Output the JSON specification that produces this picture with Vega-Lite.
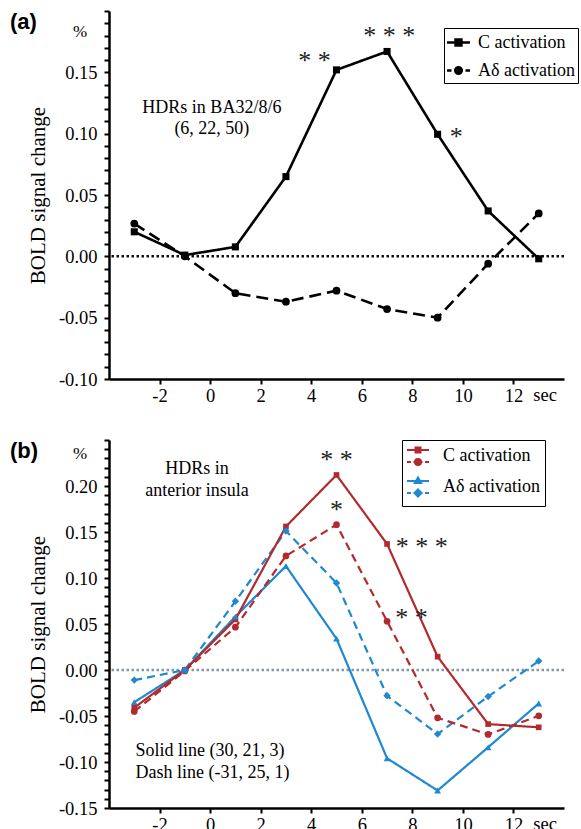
{
  "$schema": "https://vega.github.io/schema/vega-lite/v6.json",
  "background": "white",
  "padding": {"left": 10, "top": 2, "right": 0, "bottom": 0},
  "spacing": 26,
  "resolve": {"scale": {"shape": "independent", "strokeDash": "independent", "color": "independent", "stroke": "independent"}},
  "config": {
    "font": "Liberation Serif",
    "view": {"stroke": null},
    "axis": {"grid": false, "domainColor": "black", "domainWidth": 2.5, "tickColor": "black", "tickWidth": 2, "tickCount": 200, "labelColor": "black", "labelFont": "Liberation Serif", "labelFontSize": 18.5, "labelOverlap": false, "labelFlush": false, "titleFont": "Liberation Serif", "titleFontSize": 21, "titleFontWeight": "normal", "titleColor": "black"}
  },
  "vconcat": [
    {
      "width": 455,
      "height": 368,
      "layer": [
        {
          "data": {"values": [{"y": 0}]},
          "mark": {"type": "rule", "color": "#111", "strokeWidth": 2.5, "strokeDash": [2.5, 2.5]},
          "encoding": {
            "y": {"field": "y", "type": "quantitative", "scale": {"domain": [-0.1, 0.2], "nice": false, "zero": false},
              "axis": {"title": "BOLD signal change", "titlePadding": 10, "labelOverlap": false, "tickCount": 200,
                "values": [-0.1,-0.09,-0.08,-0.07,-0.06,-0.05,-0.04,-0.03,-0.02,-0.01,0,0.01,0.02,0.03,0.04,0.05,0.06,0.07,0.08,0.09,0.1,0.11,0.12,0.13,0.14,0.15,0.16,0.17,0.18,0.19,0.2],
                "ticks": true, "tickSize": 5,
                "labelPadding": 7,
                "labelExpr": "abs(datum.value*20 - round(datum.value*20)) < 0.01 && datum.value < 0.19 ? (datum.value < -0.001 ? '-' : '') + format(abs(datum.value), '.2f') : ''"}}
          }
        },
        {
          "data": {"values": [
            {"x": -3, "y": 0.020, "series": "C activation", "fiber": "C"},
            {"x": -1, "y": 0.001, "series": "C activation", "fiber": "C"},
            {"x": 1, "y": 0.0077, "series": "C activation", "fiber": "C"},
            {"x": 3, "y": 0.065, "series": "C activation", "fiber": "C"},
            {"x": 5, "y": 0.152, "series": "C activation", "fiber": "C"},
            {"x": 7, "y": 0.167, "series": "C activation", "fiber": "C"},
            {"x": 9, "y": 0.0995, "series": "C activation", "fiber": "C"},
            {"x": 11, "y": 0.037, "series": "C activation", "fiber": "C"},
            {"x": 13, "y": -0.002, "series": "C activation", "fiber": "C"},
            {"x": -3, "y": 0.0267, "series": "Aδ activation", "fiber": "Aδ"},
            {"x": -1, "y": 0.0, "series": "Aδ activation", "fiber": "Aδ"},
            {"x": 1, "y": -0.030, "series": "Aδ activation", "fiber": "Aδ"},
            {"x": 3, "y": -0.037, "series": "Aδ activation", "fiber": "Aδ"},
            {"x": 5, "y": -0.028, "series": "Aδ activation", "fiber": "Aδ"},
            {"x": 7, "y": -0.043, "series": "Aδ activation", "fiber": "Aδ"},
            {"x": 9, "y": -0.050, "series": "Aδ activation", "fiber": "Aδ"},
            {"x": 11, "y": -0.006, "series": "Aδ activation", "fiber": "Aδ"},
            {"x": 13, "y": 0.035, "series": "Aδ activation", "fiber": "Aδ"}
          ]},
          "layer": [
            {
              "mark": {"type": "line", "color": "black", "strokeWidth": 2.6},
              "encoding": {
                "x": {"field": "x", "type": "quantitative", "scale": {"domain": [-4, 14], "nice": false, "zero": false},
                  "axis": {"title": null, "values": [-2,0,2,4,6,8,10,12], "ticks": true, "tickSize": 5, "labelOverlap": false, "tickCount": 200,
                    "labelPadding": 2,
                    "labelExpr": "(datum.value < 0 ? '-' : '') + format(abs(datum.value), 'd')"}},
                "y": {"field": "y", "type": "quantitative"},
                "strokeDash": {"field": "fiber", "type": "nominal", "scale": {"domain": ["C", "Aδ"], "range": [[1, 0], [12, 6]]}, "legend": null}
              }
            },
            {
              "transform": [{"filter": "datum.fiber == 'C'"}],
              "mark": {"type": "point", "shape": "square", "filled": true, "color": "black", "opacity": 1, "size": 50},
              "encoding": {"x": {"field": "x", "type": "quantitative"}, "y": {"field": "y", "type": "quantitative"}}
            },
            {
              "transform": [{"filter": "datum.fiber != 'C'"}],
              "mark": {"type": "point", "shape": "circle", "filled": true, "color": "black", "opacity": 1, "size": 60},
              "encoding": {"x": {"field": "x", "type": "quantitative"}, "y": {"field": "y", "type": "quantitative"}}
            },
            {
              "mark": {"type": "point", "filled": true, "strokeWidth": 2.4, "opacity": 1},
              "encoding": {
                "x": {"field": "x", "type": "quantitative"},
                "y": {"field": "y", "type": "quantitative"},
                "size": {"value": 0},
                "color": {"field": "series", "type": "nominal", "scale": {"domain": ["C activation", "Aδ activation"], "range": ["black", "black"]},
                  "legend": {"title": null, "orient": "none", "legendX": 335, "legendY": 17, "strokeColor": "black", "fillColor": "white", "padding": 3, "rowPadding": 7, "symbolSize": 400, "symbolStrokeWidth": 2.4, "symbolOpacity": 1, "labelOffset": 8, "labelFont": "Liberation Serif", "labelFontSize": 18, "labelColor": "black"}},
                "stroke": {"field": "series", "type": "nominal", "scale": {"domain": ["C activation", "Aδ activation"], "range": ["black", "black"]},
                  "legend": {"title": null, "orient": "none", "legendX": 335, "legendY": 17, "strokeColor": "black", "fillColor": "white", "padding": 3, "rowPadding": 7, "symbolSize": 400, "symbolStrokeWidth": 2.4, "symbolOpacity": 1, "labelOffset": 8, "labelFont": "Liberation Serif", "labelFontSize": 18, "labelColor": "black"}},
                "shape": {"field": "series", "type": "nominal",
                  "scale": {"domain": ["C activation", "Aδ activation"], "range": ["M-1.15,0H1.15M-0.3,-0.3H0.3V0.3H-0.3Z", "M-1.15,0H-0.7M-0.45,0H0.45M0.7,0H1.15M-0.33,0A0.33,0.33 0 1,0 0.33,0A0.33,0.33 0 1,0 -0.33,0Z"]},
                  "legend": {"title": null, "orient": "none", "legendX": 335, "legendY": 17, "strokeColor": "black", "fillColor": "white", "padding": 3, "rowPadding": 7, "symbolSize": 400, "symbolStrokeWidth": 2.4, "symbolOpacity": 1, "labelOffset": 8, "labelFont": "Liberation Serif", "labelFontSize": 18, "labelColor": "black"}}
              }
            }
          ]
        },
        {
          "data": {"values": [
            {"x": 0.07, "y": 0.1207, "label": "HDRs in BA32/8/6"},
            {"x": 0.07, "y": 0.1036, "label": "(6, 22, 50)"}
          ]},
          "mark": {"type": "text", "fontSize": 18, "color": "black", "align": "center", "baseline": "middle"},
          "encoding": {"x": {"field": "x", "type": "quantitative"}, "y": {"field": "y", "type": "quantitative"}, "text": {"field": "label"}}
        },
        {
          "data": {"values": [{"x": 13.25, "y": -0.1, "label": "sec"}]},
          "mark": {"type": "text", "fontSize": 18.5, "color": "black", "align": "center", "baseline": "top", "dy": 7},
          "encoding": {"x": {"field": "x", "type": "quantitative"}, "y": {"field": "y", "type": "quantitative"}, "text": {"field": "label"}}
        },
        {
          "data": {"values": [
            {"x": 4.13, "y": 0.163, "label": "* *"},
            {"x": 7.09, "y": 0.184, "label": "* * *"},
            {"x": 9.74, "y": 0.101, "label": "*"}
          ]},
          "mark": {"type": "text", "fontSize": 26, "color": "#222", "align": "center", "baseline": "middle", "dy": 5},
          "encoding": {"x": {"field": "x", "type": "quantitative"}, "y": {"field": "y", "type": "quantitative"}, "text": {"field": "label"}}
        },
        {
          "data": {"values": [{"x": -4, "y": 0.1908, "label": "(a)"}]},
          "mark": {"type": "text", "font": "Liberation Sans", "fontWeight": "bold", "fontSize": 22, "color": "black", "align": "left", "baseline": "middle", "dx": -99},
          "encoding": {"x": {"field": "x", "type": "quantitative"}, "y": {"field": "y", "type": "quantitative"}, "text": {"field": "label"}}
        },
        {
          "data": {"values": [{"x": -4, "y": 0.1826, "label": "%"}]},
          "mark": {"type": "text", "fontSize": 17, "color": "black", "align": "center", "baseline": "middle", "dx": -29},
          "encoding": {"x": {"field": "x", "type": "quantitative"}, "y": {"field": "y", "type": "quantitative"}, "text": {"field": "label"}}
        }
      ]
    },
    {
      "width": 455,
      "height": 368,
      "layer": [
        {
          "data": {"values": [{"y": 0}]},
          "mark": {"type": "rule", "color": "#8796a3", "strokeWidth": 2.5, "strokeDash": [2.5, 2.5]},
          "encoding": {
            "y": {"field": "y", "type": "quantitative", "scale": {"domain": [-0.15, 0.25], "nice": false, "zero": false},
              "axis": {"title": "BOLD signal change", "titlePadding": 10, "labelOverlap": false, "tickCount": 200,
                "values": [-0.15,-0.14,-0.13,-0.12,-0.11,-0.1,-0.09,-0.08,-0.07,-0.06,-0.05,-0.04,-0.03,-0.02,-0.01,0,0.01,0.02,0.03,0.04,0.05,0.06,0.07,0.08,0.09,0.1,0.11,0.12,0.13,0.14,0.15,0.16,0.17,0.18,0.19,0.2,0.21,0.22,0.23,0.24,0.25],
                "ticks": true, "tickSize": 5,
                "labelPadding": 7,
                "labelExpr": "abs(datum.value*20 - round(datum.value*20)) < 0.01 && datum.value < 0.245 ? (datum.value < -0.001 ? '-' : '') + format(abs(datum.value), '.2f') : ''"}}
          }
        },
        {
          "data": {"values": [
            {"x": -3, "y": -0.035, "act": "Aδ activation", "style": "Solid", "series": "Aδ Solid"},
            {"x": -1, "y": 0.0, "act": "Aδ activation", "style": "Solid", "series": "Aδ Solid"},
            {"x": 1, "y": 0.058, "act": "Aδ activation", "style": "Solid", "series": "Aδ Solid"},
            {"x": 3, "y": 0.113, "act": "Aδ activation", "style": "Solid", "series": "Aδ Solid"},
            {"x": 5, "y": 0.034, "act": "Aδ activation", "style": "Solid", "series": "Aδ Solid"},
            {"x": 7, "y": -0.096, "act": "Aδ activation", "style": "Solid", "series": "Aδ Solid"},
            {"x": 9, "y": -0.131, "act": "Aδ activation", "style": "Solid", "series": "Aδ Solid"},
            {"x": 11, "y": -0.084, "act": "Aδ activation", "style": "Solid", "series": "Aδ Solid"},
            {"x": 13, "y": -0.0364, "act": "Aδ activation", "style": "Solid", "series": "Aδ Solid"},
            {"x": -3, "y": -0.011, "act": "Aδ activation", "style": "Dash", "series": "Aδ Dash"},
            {"x": -1, "y": 0.0, "act": "Aδ activation", "style": "Dash", "series": "Aδ Dash"},
            {"x": 1, "y": 0.0747, "act": "Aδ activation", "style": "Dash", "series": "Aδ Dash"},
            {"x": 3, "y": 0.151, "act": "Aδ activation", "style": "Dash", "series": "Aδ Dash"},
            {"x": 5, "y": 0.0946, "act": "Aδ activation", "style": "Dash", "series": "Aδ Dash"},
            {"x": 7, "y": -0.028, "act": "Aδ activation", "style": "Dash", "series": "Aδ Dash"},
            {"x": 9, "y": -0.0696, "act": "Aδ activation", "style": "Dash", "series": "Aδ Dash"},
            {"x": 11, "y": -0.0288, "act": "Aδ activation", "style": "Dash", "series": "Aδ Dash"},
            {"x": 13, "y": 0.0097, "act": "Aδ activation", "style": "Dash", "series": "Aδ Dash"},
            {"x": -3, "y": -0.041, "act": "C activation", "style": "Solid", "series": "C Solid"},
            {"x": -1, "y": 0.0, "act": "C activation", "style": "Solid", "series": "C Solid"},
            {"x": 1, "y": 0.055, "act": "C activation", "style": "Solid", "series": "C Solid"},
            {"x": 3, "y": 0.156, "act": "C activation", "style": "Solid", "series": "C Solid"},
            {"x": 5, "y": 0.212, "act": "C activation", "style": "Solid", "series": "C Solid"},
            {"x": 7, "y": 0.137, "act": "C activation", "style": "Solid", "series": "C Solid"},
            {"x": 9, "y": 0.0145, "act": "C activation", "style": "Solid", "series": "C Solid"},
            {"x": 11, "y": -0.0588, "act": "C activation", "style": "Solid", "series": "C Solid"},
            {"x": 13, "y": -0.0623, "act": "C activation", "style": "Solid", "series": "C Solid"},
            {"x": -3, "y": -0.045, "act": "C activation", "style": "Dash", "series": "C Dash"},
            {"x": -1, "y": -0.001, "act": "C activation", "style": "Dash", "series": "C Dash"},
            {"x": 1, "y": 0.0465, "act": "C activation", "style": "Dash", "series": "C Dash"},
            {"x": 3, "y": 0.124, "act": "C activation", "style": "Dash", "series": "C Dash"},
            {"x": 5, "y": 0.158, "act": "C activation", "style": "Dash", "series": "C Dash"},
            {"x": 7, "y": 0.053, "act": "C activation", "style": "Dash", "series": "C Dash"},
            {"x": 9, "y": -0.052, "act": "C activation", "style": "Dash", "series": "C Dash"},
            {"x": 11, "y": -0.070, "act": "C activation", "style": "Dash", "series": "C Dash"},
            {"x": 13, "y": -0.0498, "act": "C activation", "style": "Dash", "series": "C Dash"}
          ]},
          "layer": [
            {
              "mark": {"type": "line", "strokeWidth": 2.2},
              "encoding": {
                "x": {"field": "x", "type": "quantitative", "scale": {"domain": [-4, 14], "nice": false, "zero": false},
                  "axis": {"title": null, "values": [-2,0,2,4,6,8,10,12], "ticks": true, "tickSize": 5, "labelOverlap": false, "tickCount": 200,
                    "labelPadding": 2,
                    "labelExpr": "(datum.value < 0 ? '-' : '') + format(abs(datum.value), 'd')"}},
                "y": {"field": "y", "type": "quantitative"},
                "detail": {"field": "series", "type": "nominal"},
                "color": {"field": "act", "type": "nominal", "scale": {"domain": ["C activation", "Aδ activation"], "range": ["#b22a2e", "#1e88d2"]}},
                "strokeDash": {"field": "style", "type": "nominal", "scale": {"domain": ["Solid", "Dash"], "range": [[1, 0], [8, 5]]}, "legend": null}
              }
            },
            {
              "transform": [{"filter": "datum.series == 'C Solid'"}],
              "mark": {"type": "point", "shape": "square", "filled": true, "opacity": 1, "size": 32},
              "encoding": {"x": {"field": "x", "type": "quantitative"}, "y": {"field": "y", "type": "quantitative"},
                "color": {"field": "act", "type": "nominal", "scale": {"domain": ["C activation", "Aδ activation"], "range": ["#b22a2e", "#1e88d2"]}}}
            },
            {
              "transform": [{"filter": "datum.series == 'C Dash'"}],
              "mark": {"type": "point", "shape": "circle", "filled": true, "opacity": 1, "size": 45},
              "encoding": {"x": {"field": "x", "type": "quantitative"}, "y": {"field": "y", "type": "quantitative"},
                "color": {"field": "act", "type": "nominal", "scale": {"domain": ["C activation", "Aδ activation"], "range": ["#b22a2e", "#1e88d2"]}}}
            },
            {
              "transform": [{"filter": "datum.series == 'Aδ Solid'"}],
              "mark": {"type": "point", "shape": "triangle-up", "filled": true, "opacity": 1, "size": 45},
              "encoding": {"x": {"field": "x", "type": "quantitative"}, "y": {"field": "y", "type": "quantitative"},
                "color": {"field": "act", "type": "nominal", "scale": {"domain": ["C activation", "Aδ activation"], "range": ["#b22a2e", "#1e88d2"]}}}
            },
            {
              "transform": [{"filter": "datum.series == 'Aδ Dash'"}],
              "mark": {"type": "point", "shape": "diamond", "filled": true, "opacity": 1, "size": 55},
              "encoding": {"x": {"field": "x", "type": "quantitative"}, "y": {"field": "y", "type": "quantitative"},
                "color": {"field": "act", "type": "nominal", "scale": {"domain": ["C activation", "Aδ activation"], "range": ["#b22a2e", "#1e88d2"]}}}
            },
            {
              "mark": {"type": "point", "filled": true, "strokeWidth": 2, "opacity": 1},
              "encoding": {
                "x": {"field": "x", "type": "quantitative"},
                "y": {"field": "y", "type": "quantitative"},
                "size": {"value": 0},
                "color": {"field": "act", "type": "nominal", "scale": {"domain": ["C activation", "Aδ activation"], "range": ["#b22a2e", "#1e88d2"]},
                  "legend": {"title": null, "orient": "none", "legendX": 293, "legendY": 0, "strokeColor": "black", "fillColor": "white", "padding": 5, "rowPadding": 4, "symbolSize": 400, "symbolStrokeWidth": 2, "symbolOpacity": 1, "labelOffset": 14, "labelFont": "Liberation Serif", "labelFontSize": 18, "labelColor": "black"}},
                "stroke": {"field": "act", "type": "nominal", "scale": {"domain": ["C activation", "Aδ activation"], "range": ["#b22a2e", "#1e88d2"]},
                  "legend": {"title": null, "orient": "none", "legendX": 293, "legendY": 0, "strokeColor": "black", "fillColor": "white", "padding": 5, "rowPadding": 4, "symbolSize": 400, "symbolStrokeWidth": 2, "symbolOpacity": 1, "labelOffset": 14, "labelFont": "Liberation Serif", "labelFontSize": 18, "labelColor": "black"}},
                "shape": {"field": "act", "type": "nominal",
                  "scale": {"domain": ["C activation", "Aδ activation"], "range": ["M-1.1,-0.6H1.1M-0.25,-0.85H0.25V-0.35H-0.25ZM-1.1,0.6H-0.7M-0.45,0.6H0.45M0.7,0.6H1.1M-0.3,0.6A0.3,0.3 0 1,0 0.3,0.6A0.3,0.3 0 1,0 -0.3,0.6Z", "M-1.1,-0.6H1.1M0,-0.95L0.32,-0.4H-0.32ZM-1.1,0.6H-0.7M-0.45,0.6H0.45M0.7,0.6H1.1M0,0.25L0.35,0.6L0,0.95L-0.35,0.6Z"]},
                  "legend": {"title": null, "orient": "none", "legendX": 293, "legendY": 0, "strokeColor": "black", "fillColor": "white", "padding": 5, "rowPadding": 4, "symbolSize": 400, "symbolStrokeWidth": 2, "symbolOpacity": 1, "labelOffset": 14, "labelFont": "Liberation Serif", "labelFontSize": 18, "labelColor": "black"}}
              }
            }
          ]
        },
        {
          "data": {"values": [
            {"x": -0.52, "y": 0.2183, "label": "HDRs in"},
            {"x": -0.52, "y": 0.1948, "label": "anterior insula"}
          ]},
          "mark": {"type": "text", "fontSize": 18, "color": "black", "align": "center", "baseline": "middle"},
          "encoding": {"x": {"field": "x", "type": "quantitative"}, "y": {"field": "y", "type": "quantitative"}, "text": {"field": "label"}}
        },
        {
          "data": {"values": [
            {"x": -2.95, "y": -0.0883, "label": "Solid line (30, 21, 3)"},
            {"x": -2.95, "y": -0.1118, "label": "Dash line (-31, 25, 1)"}
          ]},
          "mark": {"type": "text", "fontSize": 18, "color": "black", "align": "left", "baseline": "middle"},
          "encoding": {"x": {"field": "x", "type": "quantitative"}, "y": {"field": "y", "type": "quantitative"}, "text": {"field": "label"}}
        },
        {
          "data": {"values": [{"x": 13.25, "y": -0.15, "label": "sec"}]},
          "mark": {"type": "text", "fontSize": 18.5, "color": "black", "align": "center", "baseline": "top", "dy": 7},
          "encoding": {"x": {"field": "x", "type": "quantitative"}, "y": {"field": "y", "type": "quantitative"}, "text": {"field": "label"}}
        },
        {
          "data": {"values": [
            {"x": 5.0, "y": 0.2334, "label": "* *"},
            {"x": 5.0, "y": 0.1793, "label": "*"},
            {"x": 8.37, "y": 0.139, "label": "* * *"},
            {"x": 7.97, "y": 0.0621, "label": "* *"}
          ]},
          "mark": {"type": "text", "fontSize": 26, "color": "#222", "align": "center", "baseline": "middle", "dy": 5},
          "encoding": {"x": {"field": "x", "type": "quantitative"}, "y": {"field": "y", "type": "quantitative"}, "text": {"field": "label"}}
        },
        {
          "data": {"values": [{"x": -4, "y": 0.2378, "label": "(b)"}]},
          "mark": {"type": "text", "font": "Liberation Sans", "fontWeight": "bold", "fontSize": 22, "color": "black", "align": "left", "baseline": "middle", "dx": -99},
          "encoding": {"x": {"field": "x", "type": "quantitative"}, "y": {"field": "y", "type": "quantitative"}, "text": {"field": "label"}}
        },
        {
          "data": {"values": [{"x": -4, "y": 0.2345, "label": "%"}]},
          "mark": {"type": "text", "fontSize": 17, "color": "black", "align": "center", "baseline": "middle", "dx": -29},
          "encoding": {"x": {"field": "x", "type": "quantitative"}, "y": {"field": "y", "type": "quantitative"}, "text": {"field": "label"}}
        }
      ]
    }
  ]
}
